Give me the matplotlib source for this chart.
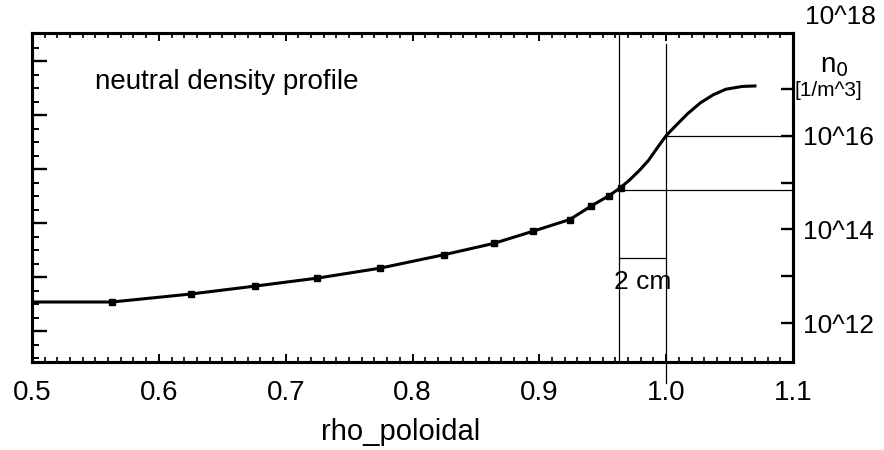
import numpy as np
import matplotlib
matplotlib.use("Agg")
import matplotlib.pyplot as plt
from matplotlib.ticker import FixedLocator, FixedFormatter, MultipleLocator, NullFormatter

plt.rcParams['font.family'] = ['Liberation Sans', 'DejaVu Sans']

# neutral density profile along rho_poloidal (log10 of n0 in 1/m^3)
rho = [0.500, 0.563, 0.625, 0.676, 0.725, 0.774, 0.825, 0.864, 0.895, 0.924,
       0.941, 0.955, 0.964, 0.971, 0.979, 0.986, 0.993, 1.000, 1.006, 1.017,
       1.027, 1.037, 1.047, 1.060, 1.070]
log_n0 = [12.45, 12.45, 12.62, 12.79, 12.96, 13.17, 13.46, 13.70, 13.96, 14.21,
          14.50, 14.72, 14.89, 15.05, 15.26, 15.47, 15.74, 16.00, 16.17, 16.47,
          16.70, 16.87, 16.99, 17.05, 17.06]
marked = list(range(1, 13))   # points drawn with square markers

# guide lines
rho_edge = 1.0
rho_2cm = 0.963
log_n_edge = 16.0
log_n_2cm = 14.83
log_bar = 13.38

xticks = [0.5, 0.6, 0.7, 0.8, 0.9, 1.0, 1.1]
xticklabels = ['0.5', '0.6', '0.7', '0.8', '0.9', '1.0', '1.1']
yticks = [1e12, 1e13, 1e14, 1e15, 1e16, 1e17]
yticklabels = ['10^12', '', '10^14', '', '10^16', '']

n0 = 10.0 ** np.array(log_n0)

fig = plt.figure(figsize=(8.84, 4.5), dpi=100)
ax = fig.add_axes([32 / 884, 1 - 362 / 450, 761 / 884, 329 / 450])

# left axis: only ticks (no labels)
ax.set_xlim(0.5, 1.1)
ax.set_ylim(-0.574, 5.52)
ax.yaxis.set_major_locator(MultipleLocator(1))
ax.yaxis.set_minor_locator(MultipleLocator(0.25))
ax.yaxis.set_major_formatter(NullFormatter())
ax.tick_params(axis='y', which='major', direction='in', length=11, width=1.7,
               left=True, right=False)
ax.tick_params(axis='y', which='minor', direction='in', length=5, width=1.4,
               left=True, right=False)

ax.xaxis.set_major_locator(FixedLocator(xticks))
ax.xaxis.set_major_formatter(FixedFormatter(xticklabels))
ax.xaxis.set_minor_locator(MultipleLocator(0.01))
ax.tick_params(axis='x', which='major', direction='in', length=6, width=1.4,
               top=True, bottom=True, labelsize=20, pad=13)
ax.tick_params(axis='x', which='minor', direction='in', length=3.5, width=1.2,
               top=True, bottom=True)
ax.set_xlabel('rho_poloidal', fontsize=21)
ax.xaxis.set_label_coords(0.485, -0.17)

# right axis: log density
axr = ax.twinx()
axr.set_yscale('log')
axr.set_ylim(10 ** 11.17, 10 ** 18.19)
axr.yaxis.set_major_locator(FixedLocator(yticks))
axr.yaxis.set_major_formatter(FixedFormatter(yticklabels))
axr.yaxis.set_minor_locator(FixedLocator([]))
axr.tick_params(axis='y', which='major', direction='in', length=9, width=1.7,
                labelsize=19, pad=7)

for a in (ax, axr):
    for s in a.spines.values():
        s.set_linewidth(2.2)

axr.plot(rho, n0, color='black', lw=2.2, marker='s', markersize=5,
         markevery=marked, zorder=3)

# 2 cm guide lines
axr.axvline(rho_2cm, color='black', lw=0.9)
axr.plot([rho_edge, rho_edge], [10 ** 10.72, 10 ** 17.96], color='black',
         lw=0.9, clip_on=False)
axr.plot([rho_edge, 1.1], [10 ** log_n_edge] * 2, color='black', lw=0.9)
axr.plot([rho_2cm, 1.1], [10 ** log_n_2cm] * 2, color='black', lw=0.9)
axr.plot([rho_2cm, rho_edge], [10 ** log_bar] * 2, color='black', lw=0.9)
axr.text((rho_2cm + rho_edge) / 2, 10 ** 12.87, '2 cm', fontsize=19,
         ha='center', va='center')

ax.text(0.083, 0.851, 'neutral density profile', transform=ax.transAxes,
        fontsize=20, ha='left', va='center')

fig.text(805 / 884, 1 - 17 / 450, '10^18', fontsize=19, ha='left', va='center')
fig.text(820 / 884, 1 - 66 / 450, r'n$_0$', fontsize=20, ha='left', va='center')
fig.text(795 / 884, 1 - 90 / 450, '[1/m^3]', fontsize=15, ha='left', va='center')

fig.savefig('out.png', dpi=100)
